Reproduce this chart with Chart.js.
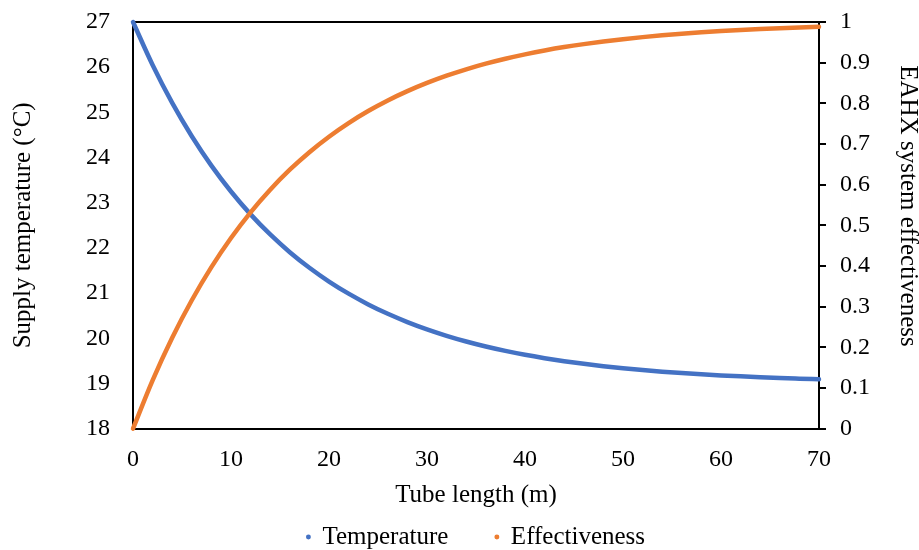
<!DOCTYPE html>
<html>
<head>
<meta charset="utf-8">
<script src="https://cdn.jsdelivr.net/npm/chart.js@4/dist/chart.umd.min.js"></script>
<style>
  html, body { margin: 0; padding: 0; background: #ffffff; }
  #wrap { width: 919px; height: 550px; }
</style>
</head>
<body>
<div id="wrap"><canvas id="chart" width="919" height="550"></canvas></div>
<script>
// Tube length along the earth-air heat exchanger (m)
const tubeLength = [0, 2, 4, 6, 8, 10, 12, 14, 16, 18, 20, 22, 24, 26, 28, 30, 32, 34,
  36, 38, 40, 42, 44, 46, 48, 50, 52, 54, 56, 58, 60, 62, 64, 66, 68, 70];

// Supply air temperature (°C)
const supplyTemperature = [27.000, 26.049, 25.210, 24.473, 23.822, 23.249, 22.743, 22.298,
  21.906, 21.561, 21.256, 20.988, 20.751, 20.543, 20.360, 20.198, 20.056, 19.930, 19.819,
  19.722, 19.636, 19.561, 19.494, 19.435, 19.383, 19.338, 19.298, 19.262, 19.231, 19.203,
  19.179, 19.158, 19.139, 19.122, 19.108, 19.095];

// EAHX system effectiveness (-)
const effectiveness = [0, 0.1189, 0.2237, 0.3159, 0.3973, 0.4689, 0.5321, 0.5877, 0.6368,
  0.6799, 0.7180, 0.7515, 0.7811, 0.8071, 0.8300, 0.8502, 0.8680, 0.8837, 0.8976, 0.9097,
  0.9205, 0.9299, 0.9383, 0.9456, 0.9521, 0.9578, 0.9628, 0.9672, 0.9711, 0.9746, 0.9776,
  0.9802, 0.9826, 0.9847, 0.9865, 0.9881];

const xTickLabels = ['0', '10', '20', '30', '40', '50', '60', '70'];
const tempTickLabels = ['18', '19', '20', '21', '22', '23', '24', '25', '26', '27'];
const effTickLabels = ['0', '0.1', '0.2', '0.3', '0.4', '0.5', '0.6', '0.7', '0.8', '0.9', '1'];

const FONT = 'Liberation Serif';
const INK = '#000000';
const BLUE = '#4472C4';
const ORANGE = '#ED7D31';

const rightTitleText = 'EAHX system effectiveness';

// Right-hand axis title, drawn a little above the axis centre
const rightTitlePlugin = {
  id: 'rightTitle',
  afterDraw(chart) {
    const ctx = chart.ctx;
    ctx.save();
    ctx.translate(908, 206);
    ctx.rotate(Math.PI / 2);
    ctx.font = '25px "' + FONT + '"';
    ctx.fillStyle = INK;
    ctx.textAlign = 'center';
    ctx.textBaseline = 'middle';
    ctx.fillText(rightTitleText, 0, 0);
    ctx.restore();
  }
};

// Fixed axis widths; the tick labels may overhang the plot edges freely
const fixWidth = (w) => (scale) => {
  scale.width = w;
  scale.paddingTop = 0;
  scale.paddingBottom = 0;
};

const pts = (ys) => tubeLength.map((x, i) => ({ x, y: ys[i] }));

new Chart(document.getElementById('chart'), {
  type: 'line',
  data: {
    datasets: [
      {
        label: 'Temperature',
        data: pts(supplyTemperature),
        yAxisID: 'y',
        xAxisID: 'x',
        borderColor: BLUE,
        backgroundColor: BLUE,
        borderWidth: 4.5,
        pointRadius: 0,
        borderCapStyle: 'round',
        borderJoinStyle: 'round',
        cubicInterpolationMode: 'monotone',
        clip: false,
        order: 1
      },
      {
        label: 'Effectiveness',
        data: pts(effectiveness),
        yAxisID: 'y1',
        xAxisID: 'x',
        borderColor: ORANGE,
        backgroundColor: ORANGE,
        borderWidth: 4.5,
        pointRadius: 0,
        borderCapStyle: 'round',
        borderJoinStyle: 'round',
        cubicInterpolationMode: 'monotone',
        clip: false,
        order: 0
      }
    ]
  },
  options: {
    responsive: false,
    animation: false,
    events: [],
    layout: { padding: { top: 22, left: 0, right: 0, bottom: -9.5 } },
    scales: {
      x: {
        type: 'linear',
        position: 'bottom',
        min: 0, max: 70,
        grid: { display: false, drawTicks: false },
        border: { display: true, color: INK, width: 2 },
        ticks: {
          stepSize: 10,
          padding: 17,
          color: INK,
          font: { family: FONT, size: 24 },
          callback: (v) => xTickLabels[Math.round(v / 10)]
        },
        title: {
          display: true,
          text: 'Tube length (m)',
          color: INK,
          font: { family: FONT, size: 25 },
          padding: { top: -11.5, bottom: -32.5 }
        }
      },
      xTop: {
        type: 'linear',
        position: 'top',
        min: 0, max: 70,
        grid: { display: false, drawTicks: false },
        border: { display: true, color: INK, width: 2 },
        ticks: { display: false }
      },
      y: {
        type: 'linear',
        position: 'left',
        min: 18, max: 27,
        grid: { display: false, drawTicks: false },
        border: { display: true, color: INK, width: 2 },
        ticks: {
          stepSize: 1,
          padding: 23,
          color: INK,
          font: { family: FONT, size: 24 },
          callback: (v) => tempTickLabels[Math.round(v - 18)]
        },
        title: {
          display: true,
          text: 'Supply temperature (°C)',
          color: INK,
          font: { family: FONT, size: 25 },
          padding: { top: 8.5, bottom: 0 }
        },
        afterFit: fixWidth(133)
      },
      y1: {
        type: 'linear',
        position: 'right',
        min: 0, max: 1,
        grid: { display: true, drawOnChartArea: false, drawTicks: true, tickLength: 7, color: INK, lineWidth: 2 },
        border: { display: true, color: INK, width: 2 },
        ticks: {
          stepSize: 0.1,
          padding: 14,
          color: INK,
          font: { family: FONT, size: 24 },
          callback: (v) => effTickLabels[Math.round(v * 10)]
        },
        afterFit: fixWidth(100)
      }
    },
    plugins: {
      tooltip: { enabled: false },
      legend: {
        display: true,
        position: 'bottom',
        fullSize: false,
        labels: {
          usePointStyle: true,
          boxWidth: 3,
          boxHeight: 3.5,
          padding: 47,
          color: INK,
          font: { family: FONT, size: 25 },
          sort: (a, b) => a.datasetIndex - b.datasetIndex,
          generateLabels: (chart) =>
            Chart.defaults.plugins.legend.labels.generateLabels(chart)
              .map((item) => Object.assign(item, { lineWidth: 0, pointStyle: 'circle' }))
        }
      }
    }
  },
  plugins: [rightTitlePlugin]
});
</script>
</body>
</html>
